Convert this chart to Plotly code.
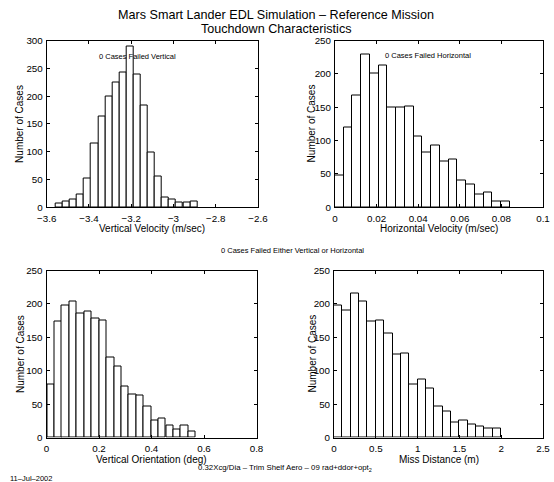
import numpy as np
import plotly.graph_objects as go

W, H = 554, 482

# ---------------- data ----------------
vv_centers = [-3.540, -3.507, -3.473, -3.440, -3.406, -3.373, -3.339, -3.306, -3.272, -3.239,
              -3.205, -3.172, -3.138, -3.105, -3.071, -3.038, -3.004, -2.971, -2.937, -2.904]
vv_counts = [6, 10, 14, 23, 52, 115, 163, 199, 225, 242, 289, 239, 183, 99, 56, 18, 14, 9, 8, 10]

hv_centers = [0.0021, 0.0063, 0.0105, 0.0147, 0.0189, 0.0231, 0.0273, 0.0315, 0.0357, 0.0399,
              0.0441, 0.0483, 0.0525, 0.0567, 0.0609, 0.0651, 0.0693, 0.0735, 0.0777, 0.0819]
hv_counts = [47, 120, 168, 229, 201, 212, 150, 150, 151, 106, 82, 93, 68, 72, 40, 34, 19, 22, 8, 9]

vo_centers = [0.017, 0.045, 0.073, 0.102, 0.130, 0.158, 0.187, 0.215, 0.243, 0.272,
              0.300, 0.328, 0.356, 0.385, 0.413, 0.441, 0.470, 0.498, 0.526, 0.555]
vo_counts = [80, 173, 197, 203, 185, 188, 178, 175, 120, 107, 76, 65, 63, 46, 25, 28, 18, 12, 18, 9]

md_centers = [0.05, 0.15, 0.25, 0.35, 0.45, 0.55, 0.65, 0.75, 0.85, 0.95,
              1.05, 1.15, 1.25, 1.35, 1.45, 1.55, 1.65, 1.75, 1.85, 1.95]
md_counts = [197, 190, 215, 203, 173, 175, 155, 125, 126, 80, 87, 73, 46, 39, 22, 26, 19, 17, 14, 14]

vv_ticks = [-3.6, -3.4, -3.2, -3.0, -2.8, -2.6]
hv_ticks = [0, 0.02, 0.04, 0.06, 0.08, 0.1]
vo_ticks = [0, 0.2, 0.4, 0.6, 0.8]
md_ticks = [0, 0.5, 1, 1.5, 2, 2.5]
y300_ticks = [0, 50, 100, 150, 200, 250, 300]
y250_ticks = [0, 50, 100, 150, 200, 250]

title_lines = ["Mars Smart Lander EDL Simulation \u2013 Reference Mission",
               "Touchdown Characteristics"]
x_titles = ["Vertical Velocity (m/sec)", "Horizontal Velocity (m/sec)",
            "Vertical Orientation (deg)", "Miss Distance (m)"]
y_title = "Number of Cases"
notes = ["0 Cases Failed Vertical", "0 Cases Failed Horizontal",
         "0 Cases Failed Either Vertical or Horizontal"]
footer_left = "11\u2013Jul\u20132002"
footer_mid = "0.32Xcg/Dia \u2013 Trim Shelf Aero \u2013 09 rad+ddor+opt<sub>2</sub>"

# ---------------- layout geometry (pixels) ----------------
FONT = "Liberation Sans, Arial, Helvetica, sans-serif"
panels = [
    # (x0, x1, ytop, ybot)
    (46.7, 258.0, 40.5, 207.3),
    (335.0, 543.0, 40.5, 207.3),
    (46.5, 256.5, 270.5, 437.5),
    (334.0, 543.0, 270.5, 437.5),
]
series = [
    (vv_centers, vv_counts, [-3.6, -2.6], vv_ticks, [0, 300], y300_ticks),
    (hv_centers, hv_counts, [0, 0.1], hv_ticks, [0, 250], y250_ticks),
    (vo_centers, vo_counts, [0, 0.8], vo_ticks, [0, 250], y250_ticks),
    (md_centers, md_counts, [0, 2.5], md_ticks, [0, 250], y250_ticks),
]

fig = go.Figure()
layout = dict(
    template="none",
    width=W, height=H, autosize=False,
    margin=dict(l=0, r=0, t=0, b=0, pad=0),
    paper_bgcolor="white", plot_bgcolor="white",
    showlegend=False, bargap=0,
    font=dict(family=FONT, color="black", size=10),
)

def fmt(v):
    s = ("%g" % v)
    return s.replace("-", "\u2212")

def px_y(py):
    return 1 - py / H

annotations = []
for i, ((x0, x1, yt, yb), (cx, cy, xr, xt, yr, yt_)) in enumerate(zip(panels, series)):
    n = "" if i == 0 else str(i + 1)
    width = float(np.mean(np.diff(cx)))
    fig.add_trace(go.Bar(
        x=cx, y=cy, width=width,
        marker=dict(color="white", line=dict(color="black", width=1)),
        xaxis="x" + n, yaxis="y" + n, hoverinfo="skip",
    ))
    common = dict(showline=True, linecolor="black", linewidth=1, mirror="ticks",
                  ticks="inside", ticklen=3, tickwidth=1, tickcolor="black",
                  showgrid=False, zeroline=False, fixedrange=True, automargin=False,
                  tickfont=dict(family=FONT, size=9.8, color="black"))
    layout["xaxis" + n] = dict(
        domain=[x0 / W, x1 / W], range=xr, anchor="y" + n,
        tickmode="array", tickvals=xt, ticktext=[fmt(v) for v in xt],
        ticklabelstandoff=2, **common)
    layout["yaxis" + n] = dict(
        domain=[px_y(yb), px_y(yt)], range=yr, anchor="x" + n,
        tickmode="array", tickvals=yt_, ticktext=[fmt(v) for v in yt_],
        ticklabelstandoff=1, **common)
    # axis titles
    annotations.append(dict(text=x_titles[i], x=(x0 + x1) / 2 / W, y=px_y(yb + 21.5),
                            xref="paper", yref="paper", showarrow=False,
                            xanchor="center", yanchor="middle", borderpad=0,
                            font=dict(family=FONT, size=10, color="black")))
    ytx = 20 if i in (0, 2) else 311.5
    annotations.append(dict(text=y_title, x=ytx / W, y=px_y((yt + yb) / 2),
                            xref="paper", yref="paper", showarrow=False, textangle=-90,
                            xanchor="center", yanchor="middle", borderpad=0,
                            font=dict(family=FONT, size=10, color="black")))

# title (two lines placed separately)
for t, py in zip(title_lines, [15, 29]):
    annotations.append(dict(text=t, x=276 / W, y=px_y(py), xref="paper", yref="paper",
                            showarrow=False, xanchor="center", yanchor="middle", borderpad=0,
                            font=dict(family=FONT, size=12.6, color="black")))
# notes
note_pos = [(137.5, 56), (427.5, 55), (292.5, 250)]
for t, (px, py) in zip(notes, note_pos):
    annotations.append(dict(text=t, x=px / W, y=px_y(py), xref="paper", yref="paper",
                            showarrow=False, xanchor="center", yanchor="middle", borderpad=0,
                            font=dict(family=FONT, size=7.5, color="black")))
annotations.append(dict(text=footer_left, x=9 / W, y=px_y(478), xref="paper", yref="paper",
                        showarrow=False, xanchor="left", yanchor="middle", borderpad=0,
                        font=dict(family=FONT, size=7.5, color="black")))
annotations.append(dict(text=footer_mid, x=197 / W, y=px_y(468), xref="paper", yref="paper",
                        showarrow=False, xanchor="left", yanchor="middle", borderpad=0,
                        font=dict(family=FONT, size=7.8, color="black")))
layout["annotations"] = annotations
fig.update_layout(**layout)
fig.write_html("out.html")
